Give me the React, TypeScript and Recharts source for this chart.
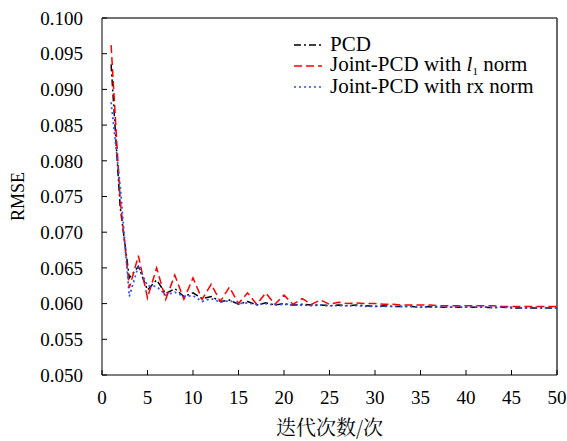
import React from "react";
import { LineChart, Line, XAxis, YAxis, ReferenceLine } from "recharts";

const iterations = Array.from({ length: 50 }, (_, i) => i + 1);

const pcdValues = [
  0.0935, 0.0735, 0.0636, 0.0652, 0.0619, 0.0633, 0.0614, 0.0621, 0.061, 0.0615,
  0.0607, 0.061, 0.0603, 0.0605, 0.0599, 0.0603, 0.0598, 0.0601, 0.0598, 0.06,
  0.0598, 0.0599, 0.0598, 0.0598, 0.0597, 0.0598, 0.0597, 0.0598, 0.0597, 0.0596,
  0.0597, 0.0596, 0.0596, 0.0596, 0.0595, 0.0596, 0.0595, 0.0595, 0.0595, 0.0595,
  0.0595, 0.0595, 0.0594, 0.0595, 0.0594, 0.0594, 0.0594, 0.0594, 0.0594, 0.0594,
];

const l1Values = [
  0.0962, 0.0745, 0.0622, 0.0667, 0.0608, 0.065, 0.0606, 0.064, 0.0606, 0.0636,
  0.0606, 0.0627, 0.0603, 0.0623, 0.06, 0.0615, 0.0599, 0.0615, 0.0599, 0.0612,
  0.0599, 0.0607, 0.0599, 0.0605, 0.0599, 0.0602, 0.06, 0.0601, 0.06, 0.06,
  0.0599, 0.0599, 0.0598, 0.0598, 0.0598, 0.0598, 0.0597, 0.0597, 0.0597, 0.0597,
  0.0597, 0.0597, 0.0597, 0.0596, 0.0596, 0.0596, 0.0596, 0.0596, 0.0596, 0.0596,
];

const rxValues = [
  0.0882, 0.0765, 0.061, 0.0653, 0.0625, 0.0624, 0.0612, 0.0616, 0.061, 0.0611,
  0.0603, 0.0607, 0.0602, 0.0604, 0.06, 0.0601, 0.0599, 0.06, 0.0598, 0.0599,
  0.0598, 0.0598, 0.0597, 0.0598, 0.0597, 0.0597, 0.0597, 0.0597, 0.0596, 0.0596,
  0.0596, 0.0596, 0.0596, 0.0596, 0.0595, 0.0595, 0.0595, 0.0595, 0.0595, 0.0595,
  0.0595, 0.0595, 0.0595, 0.0595, 0.0595, 0.0594, 0.0594, 0.0595, 0.0594, 0.0594,
];

const xTicks = [0, 5, 10, 15, 20, 25, 30, 35, 40, 45, 50];
const yTicks = [0.05, 0.055, 0.06, 0.065, 0.07, 0.075, 0.08, 0.085, 0.09, 0.095, 0.1];

const seriesNames = ["PCD", "Joint-PCD with l1 norm", "Joint-PCD with rx norm"];
const xLabel = "迭代次数/次";
const yLabel = "RMSE";

const data = iterations.map((it, i) => ({
  it,
  pcd: pcdValues[i],
  l1: l1Values[i],
  rx: rxValues[i],
}));

const serif = "Liberation Serif, DejaVu Serif, serif";
const cjk = "Noto Serif CJK SC, Noto Sans CJK SC, sans-serif";

const legendItems = [
  { key: "pcd", color: "#000000", dash: "7 3 2 3" },
  { key: "l1", color: "#ff0000", dash: "8 4" },
  { key: "rx", color: "#2a4fff", dash: "2 3" },
];

function LegendLabel({ text }: { text: string }) {
  if (text.includes(" l1 ")) {
    const [a, b] = text.split(" l1 ");
    return (
      <span>
        {a} <i>l</i>
        <span style={{ fontSize: 11, position: "relative", top: 4 }}>1</span> {b}
      </span>
    );
  }
  return <span>{text}</span>;
}

export default function App() {
  return (
    <div style={{ position: "relative", width: 567, height: 441, fontFamily: serif }}>
      <style>{`body{margin:0} .recharts-cartesian-axis-tick-value{font-family:"Liberation Serif", serif;}`}</style>
      <LineChart
        width={567}
        height={441}
        data={data}
        margin={{ top: 18, right: 10, left: 0, bottom: 0 }}
        style={{ fontFamily: serif }}
      >
        <XAxis
          dataKey="it"
          type="number"
          domain={[0, 50]}
          ticks={xTicks}
          tickSize={-5}
          tickMargin={21}
          height={66}
          stroke="#000"
          tick={{ fill: "#000", fontSize: 19, fontFamily: serif }}
          label={{
            value: xLabel,
            position: "insideBottom",
            offset: 6,
            fill: "#000",
            fontSize: 20,
            fontFamily: cjk,
          }}
        />
        <YAxis
          type="number"
          domain={[0.05, 0.1]}
          ticks={yTicks}
          tickFormatter={(v: number) => v.toFixed(3)}
          tickSize={-5}
          tickMargin={24}
          width={102}
          stroke="#000"
          allowDataOverflow
          tick={{ fill: "#000", fontSize: 19, fontFamily: serif }}
          label={{
            value: yLabel,
            angle: -90,
            position: "center",
            dx: -33,
            fill: "#000",
            fontSize: 18,
            fontFamily: serif,
          }}
        />
        <ReferenceLine y={0.1} stroke="#444" strokeWidth={1.6} />
        <ReferenceLine x={50} stroke="#444" strokeWidth={1.6} />
        <Line
          dataKey="pcd"
          stroke="#000"
          strokeWidth={1.5}
          strokeDasharray="7 3 2 3"
          dot={false}
          isAnimationActive={false}
        />
        <Line
          dataKey="l1"
          stroke="#ff0000"
          strokeWidth={1.5}
          strokeDasharray="8 4"
          dot={false}
          isAnimationActive={false}
        />
        <Line
          dataKey="rx"
          stroke="#2a4fff"
          strokeWidth={1.7}
          strokeDasharray="2 3"
          dot={false}
          isAnimationActive={false}
        />
      </LineChart>
      <div
        style={{
          position: "absolute",
          left: 294,
          top: 34,
          fontFamily: serif,
          fontSize: 21,
          color: "#000",
          lineHeight: "21px",
        }}
      >
        {legendItems.map((item, i) => (
          <div key={item.key} style={{ display: "flex", alignItems: "center", height: 21 }}>
            <svg width={30} height={10} style={{ marginRight: 6 }}>
              <line
                x1={0}
                y1={5}
                x2={28}
                y2={5}
                stroke={item.color}
                strokeWidth={1.6}
                strokeDasharray={item.dash}
              />
            </svg>
            <LegendLabel text={seriesNames[i]} />
          </div>
        ))}
      </div>
    </div>
  );
}
